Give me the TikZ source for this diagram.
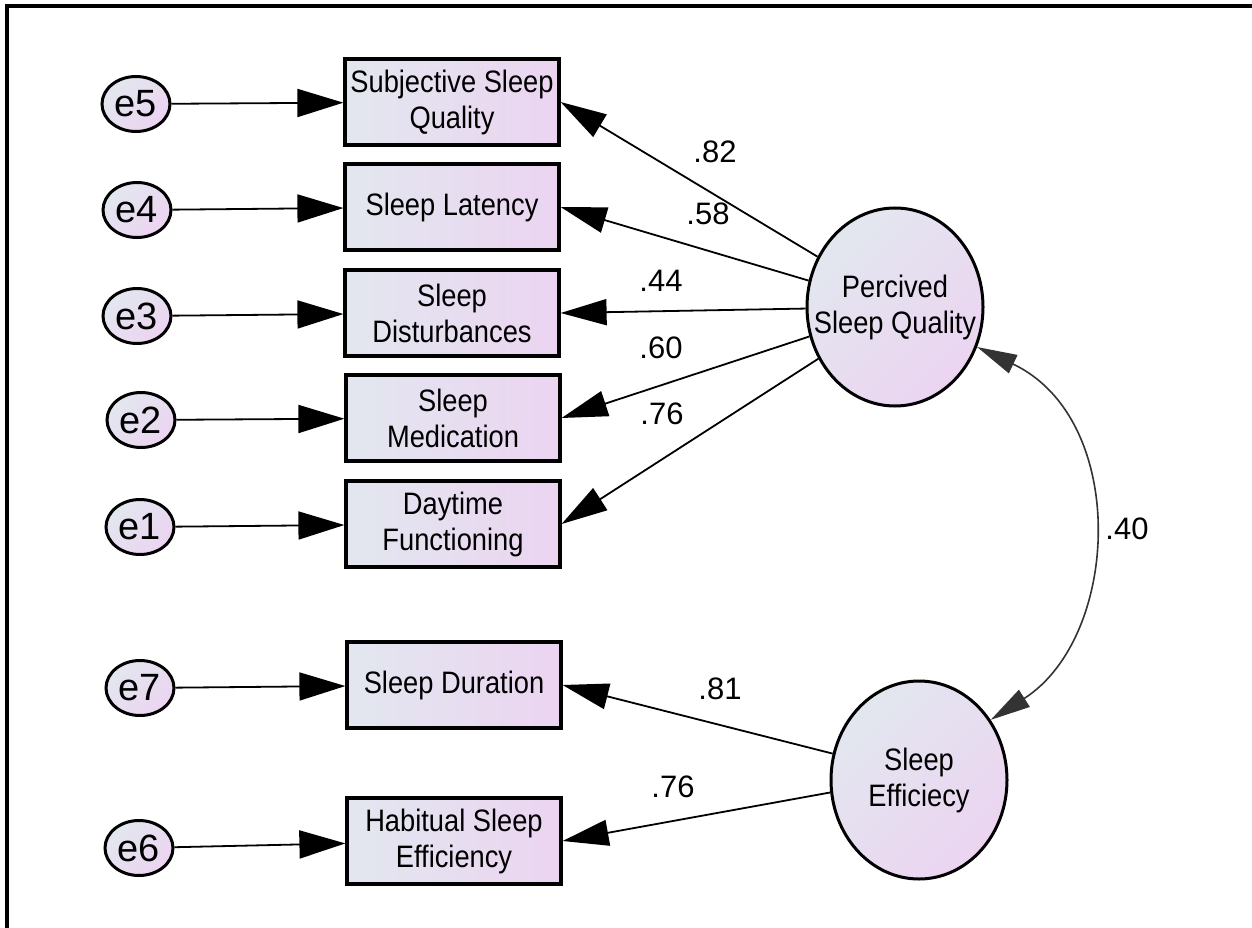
\documentclass[tikz,border=0pt]{standalone}
\usepackage{fontspec}
\setmainfont{Liberation Sans}
\newfontfamily\narrowsans{Liberation Sans}[FakeStretch=0.88]
\usetikzlibrary{arrows.meta,shapes.geometric}

\definecolor{fillA}{HTML}{E2E7EF}
\definecolor{fillB}{HTML}{ECD4F1}
\definecolor{covgray}{HTML}{333333}

\tikzset{
  observed/.style={draw=black, line width=3.2, rectangle,
    left color=fillA, right color=fillB,
    minimum width=214, minimum height=86, inner sep=0,
    align=center, font=\narrowsans\fontsize{31}{36}\selectfont},
  latent/.style={draw=black, line width=3, ellipse,
    top color=fillA, bottom color=fillB, shading angle=45,
    minimum width=176, minimum height=198, inner xsep=-32, inner ysep=0,
    align=center, font=\narrowsans\fontsize{31}{36}\selectfont},
  errnode/.style={draw=black, line width=3, ellipse,
    top color=fillA, bottom color=fillB, shading angle=45,
    minimum width=68, minimum height=55, inner sep=0,
    font=\fontsize{38}{40}\selectfont},
  errpath/.style={line width=1.8, -{Triangle[length=46, width=28]}},
  loading/.style={line width=1.8, -{Triangle[length=46, width=26]}},
  cov/.style={line width=1.6, color=covgray,
    {Triangle[length=40, width=20]}-{Triangle[length=40, width=20]}},
  coef/.style={font=\fontsize{31}{33}\selectfont, inner sep=0}
}

\begin{document}
\begin{tikzpicture}[x=1pt, y=-1pt]
\useasboundingbox (0,0) rectangle (1252,928);

% frame
\draw[line width=3.5] (7,928) -- (7,6) -- (1252,6);

% observed indicators
\node[observed] (b1) at (452,102) {Subjective Sleep\\Quality};
\node[observed] (b2) at (452,207) {Sleep Latency};
\node[observed] (b3) at (452,313) {Sleep\\Disturbances};
\node[observed] (b4) at (453,418) {Sleep\\Medication};
\node[observed] (b5) at (453,524) {Daytime\\Functioning};
\node[observed] (b6) at (454,685) {Sleep Duration};
\node[observed] (b7) at (454,841) {Habitual Sleep\\Efficiency};

% error terms
\node[errnode] (e5) at (136,104) {e5};
\node[errnode] (e4) at (137,210) {e4};
\node[errnode] (e3) at (137,316) {e3};
\node[errnode] (e2) at (141,420) {e2};
\node[errnode] (e1) at (140,527) {e1};
\node[errnode] (e7) at (140,688) {e7};
\node[errnode] (e6) at (139,848) {e6};

% latent factors
\node[latent] (P) at (895,307) {Percived\\Sleep Quality};
\node[latent] (S) at (919,780) {Sleep\\Efficiecy};

% error paths
\foreach \e/\b in {e5/b1, e4/b2, e3/b3, e2/b4, e1/b5, e7/b6, e6/b7}
  \draw[errpath] (\e) -- (\b);

% factor loadings
\draw[loading] (P.147) -- (b1.east);
\draw[loading] (P.163) -- (b2.east);
\draw[loading] (P.181) -- (b3.east);
\draw[loading] (P.199) -- (b4.east);
\draw[loading] (P.214) -- (b5.east);
\draw[loading] (S.163) -- (b6.east);
\draw[loading] (S.188) -- (b7.east);

% factor covariance
\draw[cov] (P.-26) .. controls +(152,72) and +(130,-83) .. (S.40);

% coefficients
\node[coef] (c1) at (715,152) {.82};
\node[coef] (c2) at (708,214) {.58};
\node[coef] (c3) at (661,281) {.44};
\node[coef] (c4) at (661,348) {.60};
\node[coef] (c5) at (662,414) {.76};
\node[coef] (c6) at (720,689) {.81};
\node[coef] (c7) at (673,787) {.76};
\node[coef] (c8) at (1127,529) {.40};
\end{tikzpicture}
\end{document}
